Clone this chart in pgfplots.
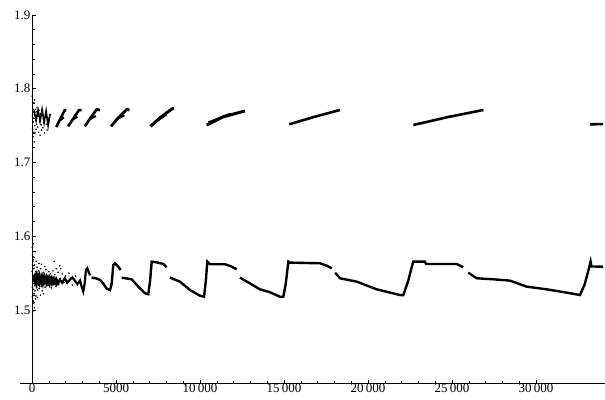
\documentclass[border=0pt]{standalone}
\usepackage{fontspec}
\setmainfont{Liberation Serif}
\usepackage{pgfplots}
\pgfplotsset{compat=1.18}
\begin{document}
\begin{tikzpicture}
\begin{axis}[
  scale only axis, width=584.6pt, height=368.75pt,
  xmin=-700, xmax=34100, ymin=1.4, ymax=1.9,
  axis lines=middle,
  axis line style={-, line width=0.7pt},
  hide obscured x ticks=false, hide obscured y ticks=false,
  scaled x ticks=false, scaled y ticks=false,
  clip=false,
  xtick={0,5000,10000,15000,20000,25000,30000},
  xticklabels={\textrm{0},\textrm{5000},\textrm{10\,000},\textrm{15\,000},\textrm{20\,000},\textrm{25\,000},\textrm{30\,000}},
  minor x tick num=4,
  ytick={1.5,1.6,1.7,1.8,1.9},
  yticklabels={\textrm{1.5},\textrm{1.6},\textrm{1.7},\textrm{1.8},\textrm{1.9}},
  minor y tick num=4,
  tick align=inside,
  major tick length=4pt, minor tick length=2.5pt,
  tick style={black, line width=0.5pt},
  ticklabel style={font=\fontsize{13}{15}\selectfont},
  xticklabel style={inner sep=1pt, yshift=1pt},
  yticklabel style={inner sep=1.5pt},
]
% --- lower series: noise ---
\addplot[only marks, mark=*, mark size=0.55pt, black] coordinates {
(10,1.552)(20,1.531)(30,1.518)(40,1.566)(50,1.541)(60,1.509)(70,1.547)(80,1.528)(90,1.572)(100,1.536)
(110,1.556)(120,1.522)(130,1.545)(140,1.503)(150,1.561)(160,1.533)(170,1.548)(180,1.526)(190,1.579)(200,1.540)
(220,1.552)(240,1.519)(260,1.546)(280,1.531)(300,1.558)(320,1.537)(340,1.527)(360,1.549)(380,1.534)(400,1.553)
(430,1.529)(460,1.545)(490,1.538)(520,1.556)(550,1.532)(580,1.548)(610,1.526)(640,1.543)(670,1.551)(700,1.535)
(740,1.547)(780,1.531)(820,1.555)(860,1.539)(900,1.546)(950,1.533)(1000,1.552)(1050,1.537)(1100,1.549)(1150,1.530)
(1200,1.544)(1250,1.553)(1300,1.536)(1350,1.548)(1400,1.532)(1450,1.556)(1500,1.541)(1550,1.551)(1600,1.535)(1650,1.560)
(1700,1.543)(1800,1.549)(1900,1.537)(2000,1.546)(2200,1.550)(2400,1.534)(2600,1.546)
(15,1.585)(25,1.575)(35,1.505)(45,1.498)(55,1.560)(65,1.590)(85,1.512)(95,1.568)(125,1.510)(135,1.571)
(210,1.515)(250,1.566)(330,1.517)(420,1.563)(500,1.520)(560,1.562)(680,1.522)(760,1.559)(1320,1.566)(1700,1.556)
};
\addplot[black, line width=2.2pt] coordinates {
(60,1.538)(150,1.545)(250,1.535)(350,1.546)(450,1.536)(550,1.545)(650,1.535)(750,1.545)(850,1.536)(950,1.544)
(1050,1.535)(1150,1.543)(1250,1.536)(1350,1.542)(1450,1.535)(1550,1.541)
};
\addplot[black, line width=2.2pt] coordinates {
(60,1.546)(150,1.539)(250,1.548)(350,1.538)(450,1.547)(550,1.537)(650,1.546)(750,1.538)(850,1.545)(950,1.537)
(1050,1.544)(1150,1.536)(1250,1.543)(1350,1.537)(1450,1.542)(1550,1.536)(1650,1.541)(1800,1.537)(1950,1.543)
(2100,1.537)(2250,1.541)(2400,1.544)(2550,1.540)(2700,1.535)(2860,1.540)(2950,1.532)(3050,1.525)(3130,1.535)
(3210,1.554)(3290,1.5565)(3380,1.551)(3450,1.547)
};
% --- lower series: main curve ---
\addplot[black, line width=2.4pt] coordinates {
(3550,1.544)(3800,1.543)(4050,1.5407)(4240,1.536)(4440,1.529)(4640,1.527)(4740,1.535)(4840,1.561)(4940,1.5633)(5140,1.5587)(5280,1.5542)
};
\addplot[black, line width=2.4pt] coordinates {
(5340,1.5438)(5930,1.5416)(6330,1.5316)(6730,1.5226)(6925,1.5213)(7030,1.540)(7125,1.5655)(7420,1.5646)(7820,1.5624)(8020,1.558)
};
\addplot[black, line width=2.4pt] coordinates {
(8210,1.5438)(8810,1.5384)(9400,1.5271)(10000,1.5194)(10240,1.518)(10350,1.540)(10435,1.5655)(10600,1.562)(11490,1.562)(11790,1.5597)(12185,1.5552)
};
\addplot[black, line width=2.4pt] coordinates {
(12380,1.5438)(12980,1.536)(13570,1.528)(14170,1.524)(14760,1.518)(14960,1.518)(15100,1.535)(15260,1.5655)(15360,1.5642)(17140,1.5633)(17540,1.5601)(17840,1.5565)
};
\addplot[black, line width=2.4pt] coordinates {
(18040,1.5506)(18330,1.543)(19330,1.5384)(20520,1.528)(21900,1.5203)(22100,1.520)(22400,1.540)(22600,1.558)(22700,1.5655)(23390,1.5655)
(23450,1.5624)(25280,1.5624)(25670,1.558)
};
\addplot[black, line width=2.4pt] coordinates {
(25970,1.5506)(26470,1.543)(27460,1.5416)(28450,1.5398)(29450,1.5316)(30640,1.528)(31830,1.5235)(32620,1.5203)(32900,1.535)(33100,1.552)(33250,1.5655)
(33300,1.559)(34000,1.5587)
};
% --- upper series: noise ---
\addplot[only marks, mark=*, mark size=0.55pt, black] coordinates {
(10,1.790)(20,1.762)(30,1.745)(40,1.797)(50,1.768)(60,1.735)(70,1.772)(80,1.755)(90,1.781)(100,1.760)
(110,1.741)(120,1.770)(130,1.728)(140,1.765)(150,1.785)(160,1.750)(170,1.768)(180,1.740)(200,1.772)(220,1.757)
(240,1.745)(260,1.769)(280,1.752)(300,1.774)(330,1.748)(360,1.763)(390,1.741)(420,1.771)(450,1.755)(480,1.737)
(510,1.766)(540,1.751)(570,1.744)(600,1.769)(650,1.747)(700,1.758)(750,1.740)(800,1.765)(850,1.752)(900,1.744)(950,1.760)
};
\addplot[black, line width=1.6pt] coordinates {
(120,1.770)(240,1.757)(360,1.771)(480,1.756)(600,1.772)(720,1.754)(840,1.770)(960,1.750)(1080,1.766)
};
% --- upper series: saw-tooth segments ---
\addplot[black, line width=2.6pt] coordinates {(1450,1.748)(1700,1.760)(1950,1.771)(2050,1.771)};
\addplot[black, line width=2.0pt] coordinates {(1600,1.756)(1900,1.761)};
\addplot[black, line width=2.6pt] coordinates {(2150,1.749)(2500,1.761)(2800,1.771)(2950,1.771)};
\addplot[black, line width=2.0pt] coordinates {(2350,1.757)(2700,1.762)};
\addplot[black, line width=2.6pt] coordinates {(3150,1.749)(3500,1.761)(3850,1.772)(4050,1.771)};
\addplot[black, line width=2.0pt] coordinates {(3400,1.758)(3800,1.763)};
\addplot[black, line width=2.8pt] coordinates {(4700,1.749)(5150,1.761)(5650,1.772)(5800,1.771)};
\addplot[black, line width=2.0pt] coordinates {(5000,1.758)(5500,1.764)};
\addplot[black, line width=3.0pt] coordinates {(7050,1.749)(7700,1.762)(8350,1.773)(8450,1.773)};
\addplot[black, line width=2.0pt] coordinates {(7300,1.754)(8000,1.765)};
\addplot[black, line width=3.0pt] coordinates {(10400,1.7508)(11390,1.762)(12680,1.7698)};
\addplot[black, line width=2.0pt] coordinates {(10500,1.7545)(11200,1.7605)(11800,1.7660)};
\addplot[black, line width=2.6pt] coordinates {(15320,1.7518)(16800,1.7618)(18330,1.7712)};
\addplot[black, line width=2.6pt] coordinates {(22700,1.7508)(24800,1.7618)(26870,1.7712)};
\addplot[black, line width=2.6pt] coordinates {(33210,1.7518)(34000,1.7520)};
\coordinate (bl) at (axis cs:-1905,1.379);
\coordinate (tr) at (axis cs:34107,1.9203);
\end{axis}
\pgfresetboundingbox
\useasboundingbox (bl) rectangle (tr);
\end{tikzpicture}
\end{document}
